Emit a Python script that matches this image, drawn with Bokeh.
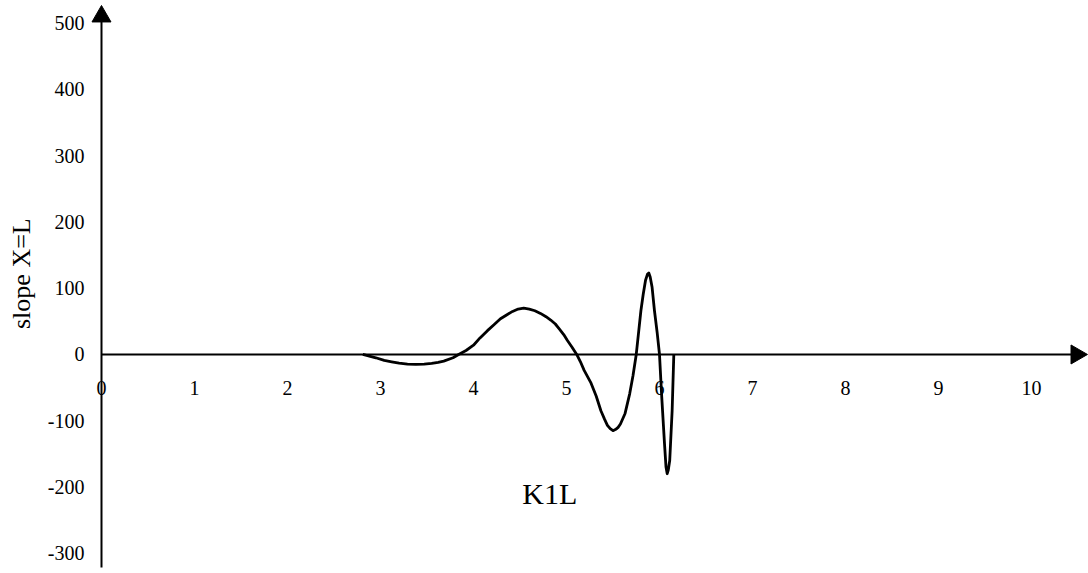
from bokeh.plotting import figure
from bokeh.models import Range1d
from bokeh.core.properties import value
from bokeh.embed import file_html
from bokeh.resources import INLINE
import math

# ---- data ----
x_ticks = [0, 1, 2, 3, 4, 5, 6, 7, 8, 9, 10]
x_tick_labels = ["0", "1", "2", "3", "4", "5", "6", "7", "8", "9", "10"]
y_ticks = [500, 400, 300, 200, 100, 0, -100, -200, -300]
y_tick_labels = ["500", "400", "300", "200", "100", "0", "-100", "-200", "-300"]

curve_x = [2.81, 2.95, 3.04, 3.12, 3.2, 3.29, 3.38, 3.47, 3.55, 3.62, 3.68, 3.78,
           3.84, 3.92, 4.0, 4.07, 4.15, 4.22, 4.29, 4.36, 4.42, 4.48, 4.54,
           4.6, 4.66, 4.72, 4.78, 4.83, 4.88, 4.92, 4.97, 5.01, 5.06, 5.11,
           5.15, 5.19, 5.26, 5.32, 5.37, 5.41, 5.44, 5.47, 5.50, 5.53, 5.555,
           5.58, 5.63, 5.68, 5.715, 5.75, 5.775, 5.80, 5.825, 5.85, 5.87,
           5.885, 5.90, 5.92, 5.946, 5.975, 6.0, 6.022, 6.054, 6.07, 6.083,
           6.095, 6.11, 6.136, 6.154]
curve_y = [0, -5, -9, -11, -13, -14.5, -15, -14.5, -13.5, -12, -10, -5,
           0, 6, 14, 25, 36, 45, 54, 60, 65, 68.6, 70,
           68.5, 66, 62, 57, 52, 46, 39, 30, 21, 11, 0,
           -11, -24, -42, -63, -85, -98, -107, -112, -115, -113, -110,
           -105, -89, -59, -32, 0, 33, 66, 91, 112, 121,
           123, 117, 102, 66, 33, 0, -59, -135, -170, -180,
           -174, -160, -85, 0]

y_axis_title = "slope X=L"
curve_label = "K1L"

# ---- layout ----
W, H = 1088, 573
X0, X1 = -1.086, 10.613
Y0, Y1 = -330.6, 534.3

p = figure(width=W, height=H, output_backend="svg", toolbar_location=None,
           x_range=Range1d(X0, X1), y_range=Range1d(Y0, Y1),
           min_border=0, min_border_left=0, min_border_right=0,
           min_border_top=0, min_border_bottom=0)
p.axis.visible = False
p.grid.visible = False
p.outline_line_color = None
p.background_fill_color = "white"
p.border_fill_color = "white"

font = value("Liberation Serif")

# axis lines
XHEAD, YHEAD = 10.484, 510.2
p.segment(x0=[0, 0], y0=[0, -321.5], x1=[XHEAD, 0], y1=[0, YHEAD],
          line_color="black", line_width=2)
# solid arrow heads
p.scatter(x=[XHEAD], y=[0], marker="triangle", size=19, angle=-math.pi / 2,
          fill_color="black", line_color="black", line_width=1)
p.scatter(x=[0], y=[YHEAD], marker="triangle", size=19, angle=0,
          fill_color="black", line_color="black", line_width=1)

# curve
p.line(curve_x, curve_y, line_color="black", line_width=2.8, line_join="round")

# tick labels
p.text(x=x_ticks, y=[-50] * len(x_ticks), text=x_tick_labels,
       text_font=font, text_font_size="20px", text_color="black",
       text_align="center", text_baseline="middle")
p.text(x=[-0.183] * len(y_ticks), y=y_ticks, text=y_tick_labels,
       text_font=font, text_font_size="20px", text_color="black",
       text_align="right", text_baseline="middle")

# titles
p.text(x=[-0.86], y=[122], text=[y_axis_title], angle=math.pi / 2,
       text_font=font, text_font_size="26px", text_color="black",
       text_align="center", text_baseline="middle")
p.text(x=[4.82], y=[-210], text=[curve_label],
       text_font=font, text_font_size="30px", text_color="black",
       text_align="center", text_baseline="middle")

open("out.html", "w").write(file_html(p, INLINE))
